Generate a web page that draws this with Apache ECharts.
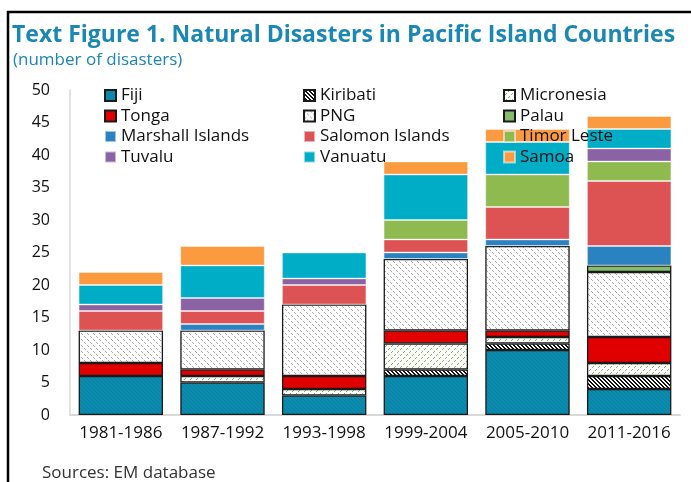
<!DOCTYPE html>
<html>
<head>
<meta charset="utf-8">
<script src="https://cdn.jsdelivr.net/npm/echarts@6/dist/echarts.min.js"></script>
<style>
  html, body { margin: 0; padding: 0; background: #fff; }
  #chart { width: 691px; height: 482px; }
</style>
</head>
<body>
<div id="chart"></div>
<script>
// Six-year periods on the category axis
const periods = ['1981-1986', '1987-1992', '1993-1998', '1999-2004', '2005-2010', '2011-2016'];

// Number of natural disasters per country and period (stacked bottom to top)
const fiji       = [6, 5, 3, 6, 10, 4];
const kiribati   = [0, 0, 0, 1, 1, 2];
const micronesia = [0, 1, 1, 4, 1, 2];
const tonga      = [2, 1, 2, 2, 1, 4];
const png        = [5, 6, 11, 11, 13, 10];
const palau      = [0, 0, 0, 0, 0, 1];
const marshall   = [0, 1, 0, 1, 1, 3];
const salomon    = [3, 2, 3, 2, 5, 10];
const timorLeste = [0, 0, 0, 3, 5, 3];
const tuvalu     = [1, 2, 1, 0, 0, 2];
const vanuatu    = [3, 5, 4, 7, 5, 3];
const samoa      = [2, 3, 0, 2, 2, 2];

const yTicks = { min: 0, max: 50, step: 5 };

// Build a small repeating diagonal hatch texture.
// dir = 1 draws "\" strokes, dir = -1 draws "/" strokes.
function hatch(size, bg, fg, dir, thick, dashEvery) {
  const c = document.createElement('canvas');
  c.width = c.height = size;
  const g = c.getContext('2d');
  g.fillStyle = bg;
  g.fillRect(0, 0, size, size);
  g.fillStyle = fg;
  for (let i = 0; i < size; i++) {
    if (dashEvery && (i % dashEvery) === dashEvery - 1) continue;
    for (let w = 0; w < thick; w++) {
      const x = dir > 0 ? (i + w) % size : (size - 1 - i + w + size) % size;
      g.fillRect(x, i, 1, 1);
    }
  }
  return { image: c, repeat: 'repeat' };
}

const dark = '#1a1a1a';
const soft = 'rgba(255,255,255,0.55)';

const seriesDefs = [
  { name: 'Fiji',             values: fiji,       color: hatch(4, '#0b8bad', '#0981a1', 1, 1),     border: dark },
  { name: 'Kiribati',         values: kiribati,   color: hatch(4, '#ffffff', '#111111', 1, 2),     border: dark },
  { name: 'Micronesia',       values: micronesia, color: hatch(6, '#ffffff', '#7dbb5c', -1, 1, 3), border: dark },
  { name: 'Tonga',            values: tonga,      color: '#e00000',                                border: dark },
  { name: 'PNG',              values: png,        color: hatch(6, '#ffffff', '#adadad', 1, 1, 3),  border: dark },
  { name: 'Palau',            values: palau,      color: '#86bc6e',                                border: dark },
  { name: 'Marshall Islands', values: marshall,   color: '#2a82c0',                                border: soft },
  { name: 'Salomon Islands',  values: salomon,    color: '#dd5252',                                border: soft },
  { name: 'Timor Leste',      values: timorLeste, color: '#8fba50',                                border: soft },
  { name: 'Tuvalu',           values: tuvalu,     color: '#8b62a3',                                border: soft },
  { name: 'Vanuatu',          values: vanuatu,    color: '#00adc6',                                border: soft },
  { name: 'Samoa',            values: samoa,      color: '#fb9a3e',                                border: soft }
];

const font = '"Open Sans", "Noto Sans", sans-serif';
const titleBlue = '#1a87b5';

const legendCommon = {
  orient: 'vertical',
  top: 86,
  padding: 0,
  itemWidth: 11,
  itemHeight: 11,
  itemGap: 1.5,
  icon: 'rect',
  selectedMode: false,
  textStyle: { fontFamily: font, fontSize: 17, color: '#111', lineHeight: 19 }
};

const option = {
  animation: false,
  backgroundColor: '#fff',
  title: [
    {
      text: 'Text Figure 1. Natural Disasters in Pacific Island Countries',
      left: 12, top: 24, padding: 0,
      textStyle: { fontFamily: font, fontSize: 23, fontWeight: 'bold', color: titleBlue }
    },
    {
      text: '(number of disasters)',
      left: 13, top: 52, padding: 0,
      textStyle: { fontFamily: font, fontSize: 17, fontWeight: 'normal', color: titleBlue }
    }
  ],
  legend: [
    Object.assign({}, legendCommon, { left: 104, data: ['Fiji', 'Tonga', 'Marshall Islands', 'Tuvalu'] }),
    Object.assign({}, legendCommon, { left: 303, data: ['Kiribati', 'PNG', 'Salomon Islands', 'Vanuatu'] }),
    Object.assign({}, legendCommon, { left: 503, data: ['Micronesia', 'Palau', 'Timor Leste', 'Samoa'] })
  ],
  grid: { left: 70, right: 11, top: 90, bottom: 67 },
  xAxis: {
    type: 'category',
    data: periods,
    axisLine: { show: true, lineStyle: { color: '#d9d9d9', width: 2 } },
    axisTick: { show: false },
    axisLabel: { interval: 0, fontFamily: font, fontSize: 17, color: '#111', margin: 10 }
  },
  yAxis: {
    type: 'value',
    min: yTicks.min, max: yTicks.max, interval: yTicks.step,
    axisLine: { show: true, lineStyle: { color: '#d9d9d9', width: 1.5 } },
    axisTick: { show: false },
    splitLine: { show: false },
    axisLabel: { fontFamily: font, fontSize: 16, color: '#111', margin: 20 }
  },
  series: seriesDefs.map(d => ({
    name: d.name,
    type: 'bar',
    stack: 'total',
    barWidth: '83%',
    data: d.values.map(v => (v === 0 ? null : v)),
    itemStyle: { color: d.color, borderColor: d.border, borderWidth: d.border === dark ? 1.3 : 0.8 },
    emphasis: { disabled: true }
  })),
  graphic: [
    {
      type: 'rect',
      shape: { x: 8, y: 12, width: 720, height: 520 },
      style: { fill: 'none', stroke: '#000', lineWidth: 2.5 },
      silent: true
    },
    {
      type: 'text',
      left: 42, top: 465,
      style: { text: 'Sources: EM database', fontFamily: font, fontSize: 17, fill: '#333' },
      silent: true
    }
  ]
};

const chart = echarts.init(document.getElementById('chart'), null, { renderer: 'canvas' });
chart.setOption(option);
</script>
</body>
</html>
